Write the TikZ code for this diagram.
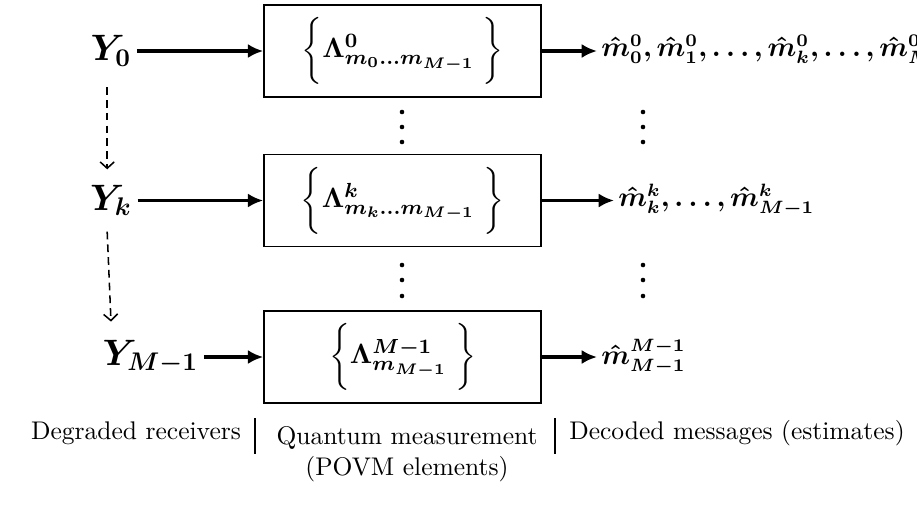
\documentclass[tikz,border=0pt]{standalone}
\usepackage{amsmath,bm}
\usetikzlibrary{arrows.meta}
\begin{document}
\begin{tikzpicture}[x=0.392pt,y=-0.392pt,
  povm/.style={draw,line width=0.6pt,minimum width=108.6pt,minimum height=36pt,inner sep=0pt,font=\fontsize{11.3}{13}\selectfont},
  recv/.style={font=\Large,inner sep=2pt},
  outp/.style={font=\fontsize{10.5}{12}\selectfont,anchor=west,inner sep=1.5pt},
  sarr/.style={line width=1.3pt,-{Latex[length=6pt,width=5.5pt]}},
  darr/.style={line width=0.6pt,dash pattern=on 3pt off 2pt,-{Straight Barb[length=2.5pt,width=5.5pt]}},
  lab/.style={font=\normalsize,align=center,inner sep=0pt},
  dotmark/.style={circle,fill,inner sep=0pt,minimum size=1.8pt}]
\useasboundingbox (0,0) rectangle (917,517);
% boxes
\node[povm] (B0) at (402.5,51) {$\bigg\{\bm{\Lambda^{0}_{m_0\ldots m_{M-1}}}\;\bigg\}$};
\node[povm] (Bk) at (402.5,200.5) {$\bigg\{\bm{\Lambda^{k}_{m_k\ldots m_{M-1}}}\;\bigg\}$};
\node[povm] (BM) at (402.5,357) {$\bigg\{\bm{\Lambda^{M-1}_{m_{M-1}}}\;\bigg\}$};
% receivers
\node[recv] (Y0) at (111,51) {$\bm{Y_0}$};
\node[recv] (Yk) at (111,200.5) {$\bm{Y_k}$};
\node[recv,anchor=west] (YM) at (97,357) {$\bm{Y_{M-1}}$};
% outputs
\node[outp] (O0) at (597,51) {$\bm{\hat m^0_0, \hat m^0_1, \ldots, \hat m^0_k, \ldots, \hat m^0_{M-1}}$};
\node[outp] (Ok) at (614,200.5) {$\bm{\hat m^k_k, \ldots, \hat m^k_{M-1}}$};
\node[outp] (OM) at (597,357) {$\bm{\hat m^{M-1}_{M-1}}$};
% arrows
\draw[sarr] (Y0) -- (B0);
\draw[sarr] (Yk) -- (Bk);
\draw[sarr] (YM) -- (BM);
\draw[sarr] (B0) -- (O0);
\draw[sarr] (Bk) -- (Ok);
\draw[sarr] (BM) -- (OM);
\draw[darr] ([xshift=-1.5pt,yshift=-6pt]Y0.south) -- ([xshift=-1.5pt,yshift=4pt]Yk.north);
\draw[darr] ([xshift=-1.5pt,yshift=-4pt]Yk.south) -- ([yshift=5pt]Yk.south |- YM.north);
% dots
\foreach \yy [count=\i] in {112,127,142} {
  \node[dotmark] (da\i) at (402,\yy) {};
  \node[dotmark] (db\i) at (643,\yy) {};
}
\foreach \yy [count=\i] in {265,280,296} {
  \node[dotmark] (dc\i) at (402,\yy) {};
  \node[dotmark] (dd\i) at (643,\yy) {};
}
% bottom labels
\node[lab] (L1) at (136,433) {Degraded receivers};
\node[lab,anchor=north] (L2) at (407,426) {Quantum measurement\\(POVM elements)};
\node[lab] (L3) at (737,433) {Decoded messages (estimates)};
\coordinate (s1a) at (255,418);
\coordinate (s1b) at (255,454);
\coordinate (s2a) at (555,418);
\coordinate (s2b) at (555,454);
\draw[line width=0.5pt] (s1a) -- (s1b);
\draw[line width=0.5pt] (s2a) -- (s2b);
\end{tikzpicture}
\end{document}
